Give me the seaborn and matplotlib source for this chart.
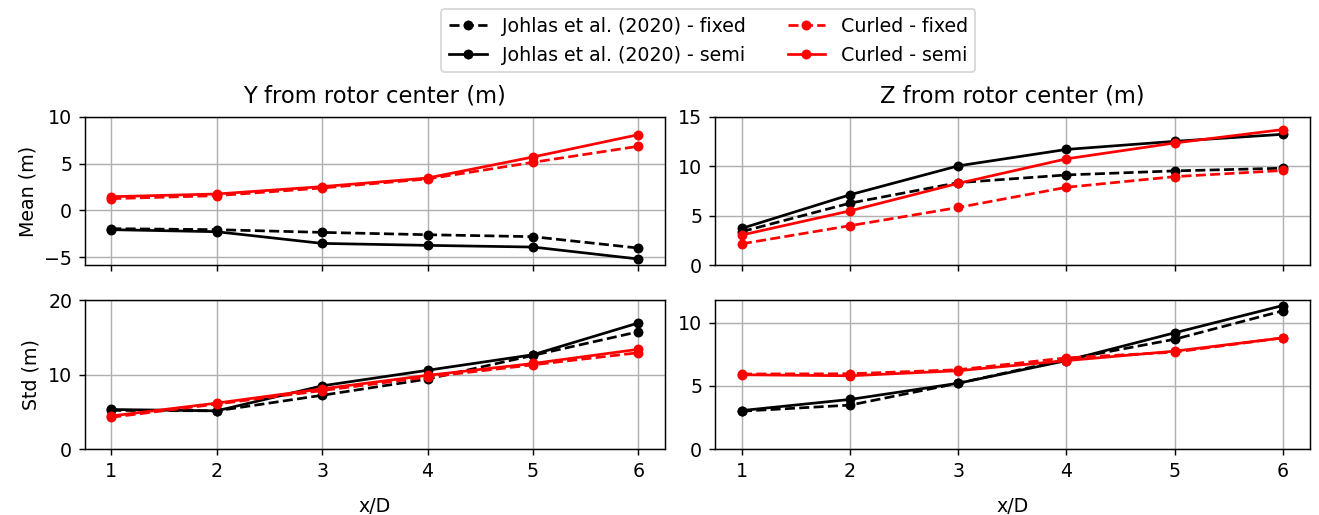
import numpy as np
import pandas as pd
import matplotlib
matplotlib.use("Agg")
import matplotlib.pyplot as plt
import seaborn as sns

xd = [1, 2, 3, 4, 5, 6]

# mean wake centre Y (m)
y_mean_johlas_fixed = [-1.96, -2.07, -2.36, -2.61, -2.82, -4.04]
y_mean_johlas_semi = [-2.07, -2.29, -3.54, -3.75, -3.93, -5.21]
y_mean_curled_fixed = [1.25, 1.57, 2.39, 3.36, 5.14, 6.86]
y_mean_curled_semi = [1.46, 1.75, 2.54, 3.46, 5.71, 8.10]

# mean wake centre Z (m)
z_mean_johlas_fixed = [3.40, 6.28, 8.35, 9.13, 9.54, 9.81]
z_mean_johlas_semi = [3.73, 7.13, 10.05, 11.71, 12.53, 13.24]
z_mean_curled_fixed = [2.17, 4.00, 5.84, 7.88, 8.96, 9.58]
z_mean_curled_semi = [3.06, 5.50, 8.28, 10.76, 12.36, 13.72]

# std of Y (m)
y_std_johlas_fixed = [5.20, 5.14, 7.23, 9.41, 12.59, 15.77]
y_std_johlas_semi = [5.32, 5.14, 8.50, 10.59, 12.68, 16.95]
y_std_curled_fixed = [4.27, 6.05, 7.86, 9.68, 11.32, 12.95]
y_std_curled_semi = [4.45, 6.18, 8.09, 9.91, 11.50, 13.41]

# std of Z (m)
z_std_johlas_fixed = [3.00, 3.48, 5.21, 7.09, 8.69, 10.94]
z_std_johlas_semi = [3.05, 3.93, 5.21, 7.00, 9.20, 11.36]
z_std_curled_fixed = [5.94, 5.96, 6.28, 7.22, 7.67, 8.80]
z_std_curled_semi = [5.88, 5.80, 6.20, 7.00, 7.75, 8.80]

labels = ["Johlas et al. (2020) - fixed", "Johlas et al. (2020) - semi",
          "Curled - fixed", "Curled - semi"]
colors = ["black", "black", "red", "red"]
styles = ["--", "-", "--", "-"]

panels = [
    [y_mean_johlas_fixed, y_mean_johlas_semi, y_mean_curled_fixed, y_mean_curled_semi],
    [z_mean_johlas_fixed, z_mean_johlas_semi, z_mean_curled_fixed, z_mean_curled_semi],
    [y_std_johlas_fixed, y_std_johlas_semi, y_std_curled_fixed, y_std_curled_semi],
    [z_std_johlas_fixed, z_std_johlas_semi, z_std_curled_fixed, z_std_curled_semi],
]

plt.rcParams["font.family"] = ["DejaVu Sans"]
plt.rcParams["font.size"] = 10.5

fig = plt.figure(figsize=(1319 / 130, 515 / 130), dpi=130)
axes = [
    fig.add_axes([0.0644, 0.485, 0.4396, 0.288]),
    fig.add_axes([0.542, 0.485, 0.451, 0.288]),
    fig.add_axes([0.0644, 0.128, 0.4396, 0.289]),
    fig.add_axes([0.542, 0.128, 0.451, 0.289]),
]

for ax, series in zip(axes, panels):
    for vals, lab, c, ls in zip(series, labels, colors, styles):
        sns.lineplot(x=xd, y=vals, ax=ax, color=c, linestyle=ls, marker="o",
                     markersize=5.5, markeredgewidth=0, linewidth=1.5, label=lab,
                     legend=False)
    ax.grid(True, color="#b0b0b0", linewidth=0.8)
    ax.set_axisbelow(True)
    ax.set_xticks(xd)

axes[0].set_ylim(top=10)
axes[0].set_yticks([-5, 0, 5, 10])
axes[1].set_ylim(0, 15)
axes[1].set_yticks([0, 5, 10, 15])
axes[2].set_ylim(0, 20)
axes[2].set_yticks([0, 10, 20])
axes[3].set_ylim(bottom=0)
axes[3].set_yticks([0, 5, 10])

axes[0].set_title("Y from rotor center (m)", fontsize=12.5, pad=8)
axes[1].set_title("Z from rotor center (m)", fontsize=12.5, pad=8)
axes[0].set_ylabel("Mean (m)")
axes[2].set_ylabel("Std (m)")
axes[1].set_ylabel("")
axes[3].set_ylabel("")
for ax in axes[:2]:
    ax.tick_params(labelbottom=False)
for ax in axes[2:]:
    ax.set_xlabel("x/D", labelpad=9)

handles, labs = axes[0].get_legend_handles_labels()
fig.legend(handles, labs, loc="upper center", ncol=2, bbox_to_anchor=(0.537, 1.0),
           frameon=True, columnspacing=2.2)

fig.savefig("out.png", dpi=130)
